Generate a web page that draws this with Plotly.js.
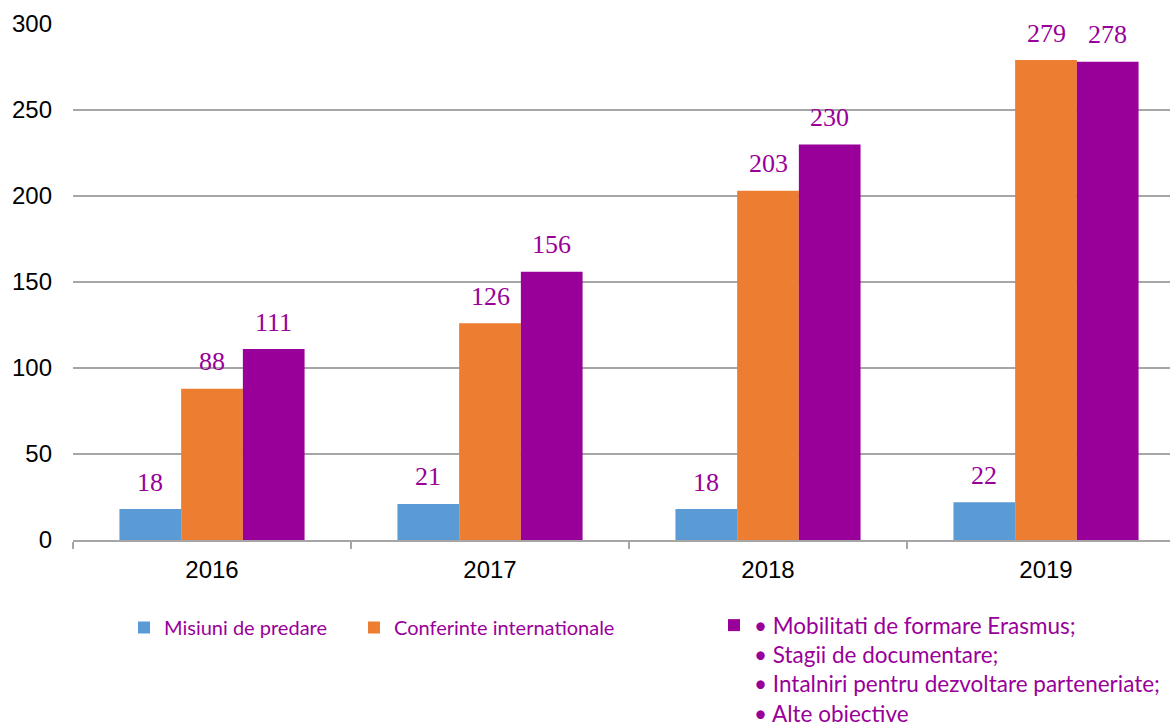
<!DOCTYPE html>
<html>
<head>
<meta charset="utf-8">
<script src="https://cdn.plot.ly/plotly-3.0.1.min.js"></script>
<style>
  html, body { margin: 0; padding: 0; background: #ffffff; overflow: hidden; }
  #chart { width: 1170px; height: 724px; }
</style>
</head>
<body>
<div id="chart"></div>
<script>
// ---- Data ----
const years = ["2016", "2017", "2018", "2019"];
const misiuniPredare = [18, 21, 18, 22];
const conferinteInternationale = [88, 126, 203, 279];
const mobilitatiAlte = [111, 156, 230, 278];

const seriesNames = [
  "Misiuni de predare",
  "Conferinte internationale",
  "• Mobilitati de formare Erasmus;<br>• Stagii de documentare;<br>• Intalniri pentru dezvoltare parteneriate;<br>• Alte obiective"
];
const seriesColors = ["#5B9BD5", "#ED7D31", "#990099"];
const seriesValues = [misiuniPredare, conferinteInternationale, mobilitatiAlte];

const yTickVals = [0, 50, 100, 150, 200, 250, 300];

// ---- Layout constants ----
const W = 1170, H = 724;
const marginL = 73, marginR = 0, marginT = 24, marginB = 184;
const bargap = 0.334;
const textPurple = "#990099";
const legendFamily = "Lato, 'Noto Sans', sans-serif";
const axisFont = { family: "'Liberation Sans', Arial, sans-serif", size: 24, color: "#000000" };

const legendIds = ["legend", "legend2", "legend3"];
const traces = seriesValues.map((vals, i) => ({
  type: "bar",
  x: years,
  y: vals,
  name: seriesNames[i],
  marker: { color: seriesColors[i], line: { width: 0 } },
  legend: legendIds[i],
  hoverinfo: "x+y+name"
}));

// data labels via annotations placed at each bar top
const nSeries = seriesValues.length;
const barW = (1 - bargap) / nSeries;
const annotations = [];
seriesValues.forEach((vals, i) => {
  vals.forEach((v, j) => {
    annotations.push({
      x: j + (i - (nSeries - 1) / 2) * barW,
      y: v,
      xref: "x", yref: "y",
      text: String(v),
      showarrow: false,
      yanchor: "middle",
      xanchor: "center",
      yshift: 27,
      font: { family: "'Liberation Serif', 'Times New Roman', serif", size: 26, color: textPurple }
    });
  });
});

function legendAt(px, py, size) {
  return {
    xref: "container", yref: "container",
    x: px / W, y: 1 - py / H,
    xanchor: "left", yanchor: "top",
    orientation: "v",
    font: { family: legendFamily, size: size, color: textPurple },
    bgcolor: "rgba(0,0,0,0)",
    borderwidth: 0,
    valign: "top",
    itemclick: false, itemdoubleclick: false
  };
}

const plotWidthPx = W - marginL - marginR;
const categoryPx = (1185 - marginL) / years.length;

const layout = {
  width: W, height: H,
  margin: { l: marginL, r: marginR, t: marginT, b: marginB, pad: 0, autoexpand: false },
  paper_bgcolor: "#ffffff",
  plot_bgcolor: "#ffffff",
  barmode: "group",
  bargap: bargap,
  bargroupgap: 0,
  showlegend: true,
  xaxis: {
    type: "category",
    range: [-0.5, -0.5 + plotWidthPx / categoryPx],
    automargin: false,
    tickangle: 0,
    showgrid: false,
    showline: true, linecolor: "#a6a6a6", linewidth: 1.5,
    ticks: "outside", tickson: "boundaries", ticklen: 7, tickcolor: "#a6a6a6", tickwidth: 1.5,
    tickfont: axisFont,
    ticklabelstandoff: 7,
    zeroline: false,
    fixedrange: true
  },
  yaxis: {
    range: [0, 300],
    automargin: false,
    tickvals: yTickVals,
    ticktext: yTickVals.map(String),
    showgrid: true, gridcolor: "#a6a6a6", gridwidth: 1.5,
    zeroline: false,
    showline: false,
    ticks: "",
    ticklabelstandoff: 20,
    tickfont: axisFont,
    fixedrange: true
  },
  legend: legendAt(124, 608, 20),
  legend2: legendAt(354, 608, 20),
  legend3: legendAt(714, 604, 22.5),
  annotations: annotations
};

Plotly.newPlot("chart", traces, layout, { displayModeBar: false, responsive: false });
</script>
</body>
</html>
